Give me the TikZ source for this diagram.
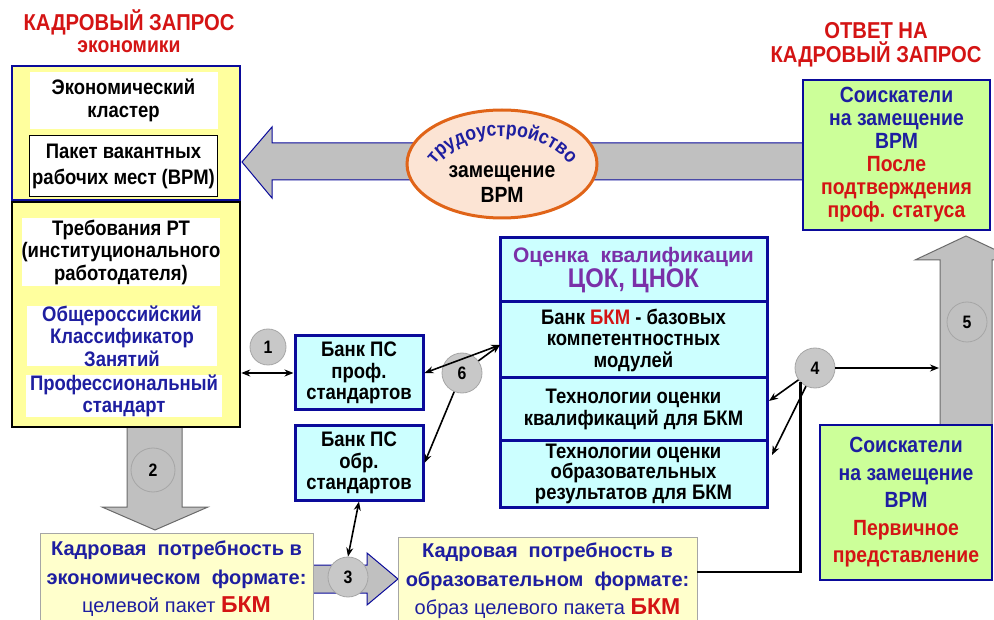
\documentclass[tikz,border=0pt]{standalone}
\usepackage{fontspec}
\setmainfont{Liberation Sans}[FakeStretch=0.88]
\newfontfamily\widefont{Liberation Sans}
\usetikzlibrary{arrows.meta,decorations.text,shapes.geometric}
\definecolor{dblue}{HTML}{0A0A9A}
\definecolor{tblue}{HTML}{1E1EA0}
\definecolor{tred}{HTML}{D41414}
\definecolor{lyel}{HTML}{FFFF9E}
\definecolor{pyel}{HTML}{FFFFCC}
\definecolor{lgreen}{HTML}{CCFF99}
\definecolor{lcyan}{HTML}{CCFFFF}
\definecolor{agray}{HTML}{C0C0C0}
\definecolor{cgray}{HTML}{C8C8C8}
\definecolor{purp}{HTML}{7A30A8}
\definecolor{oran}{HTML}{E06418}
\definecolor{peach}{HTML}{FCE4D4}
\definecolor{abord}{HTML}{6A6A6A}
\newcommand{\fsz}[2]{\fontsize{#1}{#2}\selectfont}
\tikzset{
 box/.style={draw=dblue, line width=2.5pt, inner sep=0pt, align=center},
 wbox/.style={fill=white, inner sep=0pt, align=center, font=\bfseries\fsz{21}{22.5}},
 num/.style={circle, fill=cgray, draw=gray!70, line width=0.8pt, inner sep=0pt, font=\bfseries\fsz{18}{18}},
 conn/.style={line width=1.6pt, black},
 bigarrow/.style={fill=agray, line width=1pt},
 ah/.style={-{Stealth[length=9pt,width=7pt]}},
 dah/.style={{Stealth[length=9pt,width=7pt]}-{Stealth[length=9pt,width=7pt]}},
}
\begin{document}
\begin{tikzpicture}[x=1pt,y=-1pt]
\useasboundingbox (0,0) rectangle (994,620);
\clip (0,0) rectangle (994,620);
% titles
\node[font=\bfseries\fsz{23}{24}, text=tred] (t1) at (129,22) {КАДРОВЫЙ ЗАПРОС};
\node[font=\bfseries\fsz{22}{22}, text=tred] (t2) at (129,47) {экономики};
\node[font=\bfseries\fsz{23}{24}, text=tred, align=center] (t3) at (876,45) {ОТВЕТ НА\\КАДРОВЫЙ ЗАПРОС};
% big arrows
\draw[bigarrow, draw=dblue] (242,162) -- (272,127) -- (272,143) -- (806,143) -- (806,180) -- (272,180) -- (272,198) -- cycle;
\draw[bigarrow, draw=abord] (966,236) -- (915,260) -- (940,260) -- (940,430) -- (992,430) -- (992,260) -- (1017,260) -- cycle;
\draw[bigarrow, draw=abord] (127,427) -- (182,427) -- (182,507) -- (208,507) -- (155,530) -- (102,507) -- (127,507) -- cycle;
\draw[bigarrow, draw=dblue] (313,565) -- (367,565) -- (367,553) -- (398,579) -- (367,605) -- (367,593) -- (313,593) -- cycle;
% left boxes
\node[box, line width=2pt, fill=lyel, minimum width=228pt, minimum height=134pt] (ltop) at (126,133) {};
\node[wbox, minimum width=188pt, minimum height=57pt] (eco) at (123.5,100.5) {Экономический\\кластер};
\node[wbox, draw=black, line width=1.5pt, minimum width=188pt, minimum height=61pt, font=\bfseries\fsz{21}{26}] (pak) at (123.5,166) {Пакет вакантных\\рабочих мест (ВРМ)};
\node[box, draw=black, line width=2.5pt, fill=lyel, minimum width=228pt, minimum height=225pt] (lbot) at (126,314.5) {};
\node[wbox, minimum width=192pt, minimum height=68pt] (req) at (121,252) {Требования РТ\\(институционального\\работодателя)};
\node[wbox, text=tblue, minimum width=190pt, minimum height=60pt] (okz) at (122,336) {Общероссийский\\Классификатор\\Занятий};
\node[wbox, text=tblue, minimum width=196pt, minimum height=42pt] (ps) at (124,396) {Профессиональный\\стандарт};
% oval
\node[ellipse, draw=oran, line width=3pt, fill=peach, minimum width=190pt, minimum height=108pt] (ov) at (502,164) {};
\node[font=\bfseries\fsz{22}{25}, align=center] (ovt) at (502,184) {замещение\\ВРМ};
\path[decorate, decoration={text along path, text={|\bfseries\fsz{20}{20}|трудоустройство}, text color=tblue, text align=center}] (430,172) .. controls (455,124) and (549,124) .. (574,172);
% right green boxes
\node[box, fill=lgreen, minimum width=187pt, minimum height=150pt, font=\bfseries\fsz{22}{23}] (rtop) at (896.5,155) {\textcolor{tblue}{Соискатели}\\\textcolor{tblue}{на замещение}\\\textcolor{tblue}{ВРМ}\\\textcolor{tred}{После}\\\textcolor{tred}{подтверждения}\\\textcolor{tred}{проф. статуса}};
\node[box, fill=lgreen, minimum width=172pt, minimum height=155pt, font=\bfseries\fsz{22}{27.5}] (rbot) at (906,502.5) {\textcolor{tblue}{Соискатели}\\\textcolor{tblue}{на замещение}\\\textcolor{tblue}{ВРМ}\\\textcolor{tred}{Первичное}\\\textcolor{tred}{представление}};
% center box
\node[box, line width=3pt, fill=lcyan, minimum width=267pt, minimum height=64pt, text=purp] (oc) at (633.5,270) {{\widefont\bfseries\fsz{21}{25}Оценка\ \ квалификации}\\{\bfseries\fsz{27}{25}ЦОК, ЦНОК}};
\node[box, line width=3pt, fill=lcyan, minimum width=267pt, minimum height=76pt, font=\bfseries\fsz{21}{21.5}] (bkm) at (633.5,340) {Банк \textcolor{tred}{БКМ} - базовых\\компетентностных\\модулей};
\node[box, line width=3pt, fill=lcyan, minimum width=267pt, minimum height=62pt, font=\bfseries\fsz{21}{22}] (tq) at (633.5,409) {Технологии оценки\\квалификаций для БКМ};
\node[box, line width=3pt, fill=lcyan, minimum width=267pt, minimum height=67pt, font=\bfseries\fsz{21}{20.5}] (te) at (633.5,473.5) {Технологии оценки\\образовательных\\результатов для БКМ};
% bank boxes
\node[box, line width=3pt, fill=lcyan, minimum width=128pt, minimum height=74pt, font=\bfseries\fsz{21}{21.5}] (bp) at (359,373) {Банк ПС\\проф.\\стандартов};
\node[box, line width=3pt, fill=lcyan, minimum width=128pt, minimum height=74pt, font=\bfseries\fsz{21}{21.5}] (bo) at (359,463) {Банк ПС\\обр.\\стандартов};
% bottom boxes
\node[box, draw=gray!70, line width=1pt, fill=pyel, minimum width=273pt, minimum height=92pt, font=\widefont\bfseries\fsz{20}{28.5}, text=tblue] (kl) at (176.5,579) {Кадровая\ \ потребность в\\экономическом\ \ формате:\\{\mdseries\fsz{20}{28.5}целевой пакет }\textcolor{tred}{\fsz{23}{28.5}БКМ}};
\node[box, draw=gray!70, line width=1pt, fill=pyel, minimum width=299pt, minimum height=88pt, font=\widefont\bfseries\fsz{20}{28.5}, text=tblue] (kr) at (547.5,581) {Кадровая\ \ потребность в\\образовательном\ \ формате:\\{\mdseries\fsz{20}{28.5}образ целевого пакета }\textcolor{tred}{\fsz{23}{28.5}БКМ}};
% circles
\node[num, minimum size=36pt] (c1) at (268,347) {1};
\node[num, fill=agray, minimum size=44pt] (c2) at (153,470) {2};
\node[num, minimum size=40pt] (c3) at (348,577) {3};
\node[num, minimum size=40pt] (c4) at (815,368) {4};
\node[num, fill=agray, minimum size=40pt] (c5) at (967,322) {5};
\node[num, minimum size=40pt] (c6) at (462,373) {6};
% connectors
\coordinate (k6) at (500,345);
\coordinate (k4a) at (769,401);
\coordinate (k4b) at (772,455);
\coordinate (k5) at (939,368);
\coordinate (k7) at (697,572);
\draw[conn, dah] (lbot.east |- bp.west) -- (bp.west);
\draw[conn, dah] (bp.east) -- (k6);
\draw[conn, ah] (c6) -- (k6);
\draw[conn, ah] (c6) -- (bo.east);
\draw[conn, dah] (bo.south) -- (c3.north);
\draw[conn, ah] (c4) -- (k4a);
\draw[conn, ah] (c4) -- (k4b);
\draw[conn, ah] (c4) -- (k5);
\draw[conn, line width=2.5pt] (k7) -| (c4.south west);
\end{tikzpicture}
\end{document}
